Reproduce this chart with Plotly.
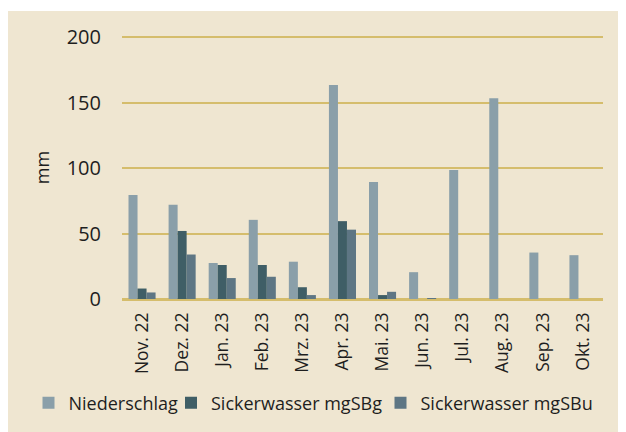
import plotly.graph_objects as go

months = ["Nov. 22", "Dez. 22", "Jan. 23", "Feb. 23", "Mrz. 23", "Apr. 23",
          "Mai. 23", "Jun. 23", "Jul. 23", "Aug. 23", "Sep. 23", "Okt. 23"]
niederschlag = [79.5, 72, 27.5, 60.5, 28.5, 163.5, 89.5, 20.5, 98.5, 153.5, 35.5, 33.5]
mgSBg = [8, 52, 26, 26, 9, 59.5, 3, 0, 0, 0, 0, 0]
mgSBu = [5, 34, 16, 17, 3, 53, 5.5, 0.2, 0, 0, 0, 0]
y_ticks = [0, 50, 100, 150, 200]

FONT = "Open Sans"
TXT = "#1e1e1e"
GOLD = "#d5bd6c"
BG = "#efe6d1"

# page has an 8px body margin: figure is 618x424, placed at (8,8)
W, H = 618, 424
L, R, T, B = 114, 23, 28, 133
pw = W - L - R
ph = H - T - B


def px_x(x):
    return (x - L) / pw


def px_y(y):
    return (H - B - y) / ph


fig = go.Figure()
fig.add_trace(go.Bar(name="Niederschlag", x=months, y=niederschlag, legend="legend",
                     marker=dict(color="#8a9fa9", line=dict(width=0))))
fig.add_trace(go.Bar(name="Sickerwasser mgSBg", x=months, y=mgSBg, legend="legend2",
                     marker=dict(color="#3f5e66", line=dict(width=0))))
fig.add_trace(go.Bar(name="Sickerwasser mgSBu", x=months, y=mgSBu, legend="legend3",
                     marker=dict(color="#5e7684", line=dict(width=0))))

# white strip at top (panel starts a little lower)
fig.add_shape(type="rect", xref="paper", yref="paper", layer="below",
              x0=px_x(0), x1=px_x(W), y0=px_y(3), y1=px_y(0),
              fillcolor="white", line=dict(width=0))

leg_common = dict(orientation="h", xanchor="left", yanchor="middle", y=px_y(395),
                  font=dict(size=18, family=FONT, color=TXT), itemwidth=30,
                  bgcolor="rgba(0,0,0,0)", borderwidth=0)
# legend item left edges (figure px), marker sits ~14px right of it
leg_x = [42.5 - 8 - 14, 185 - 8 - 14, 394.5 - 8 - 14]

fig.update_layout(
    width=W, height=H,
    margin=dict(l=L, r=R, t=T, b=B, pad=0, autoexpand=False),
    paper_bgcolor=BG,
    plot_bgcolor="rgba(0,0,0,0)",
    barmode="group",
    bargap=0.325,
    bargroupgap=0,
    font=dict(family=FONT, color=TXT, size=16),
    showlegend=True,
    legend=dict(x=px_x(leg_x[0]), **leg_common),
    legend2=dict(x=px_x(leg_x[1]), **leg_common),
    legend3=dict(x=px_x(leg_x[2]), **leg_common),
    xaxis=dict(tickangle=-90, tickfont=dict(size=17.5, family=FONT, color=TXT),
               showgrid=False, showline=False, ticks="", automargin=False,
               ticklabelstandoff=9),
    yaxis=dict(range=[0, 201], tickvals=y_ticks, showgrid=True, gridcolor=GOLD,
               gridwidth=2, zeroline=True, zerolinecolor=GOLD, zerolinewidth=3,
               showline=False, ticks="", automargin=False,
               tickfont=dict(size=20, family=FONT, color=TXT),
               ticklabelstandoff=20,
               title=dict(text="mm", font=dict(size=18, family=FONT, color=TXT), standoff=12)),
)

fig.write_html("out.html")
